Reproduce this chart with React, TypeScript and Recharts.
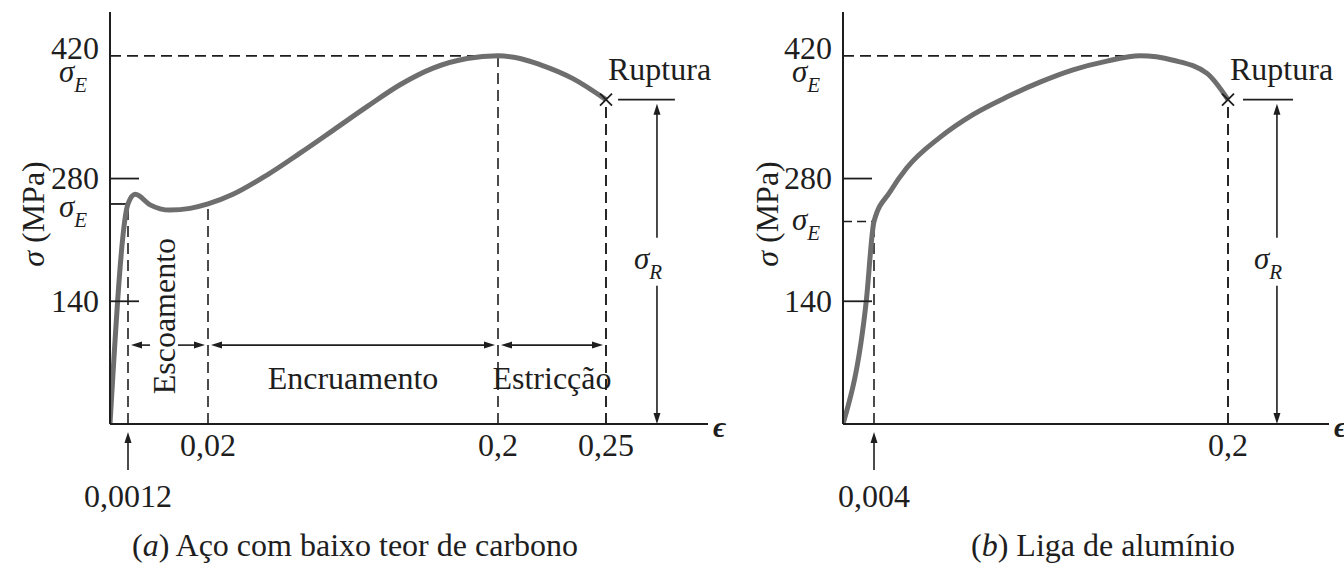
import React from "react";
import { ComposedChart, Line, XAxis, YAxis, ReferenceLine, ReferenceDot } from "recharts";

/* Two schematic stress–strain diagrams side by side.
   The strain axis is drawn "broken" (not to scale), like the textbook figure:
   each tick strain is pinned to a position along the axis and the strain in
   between is stretched piecewise-linearly. Stress is linear. */

const FONT = '"Liberation Serif", "Times New Roman", serif';
const INK = "#1e1e1e";
const CURVE = "#6e6e6e";
const DASH = "11 6";
const FS = 32;

const H = 564;
const TOP = 12;
const BOTTOM = 424;
const STRESS_MAX = 470;

// stress axis (MPa)
const STRESS_TICKS = [140, 280, 420];

// (a) low-carbon steel — strain, stress (MPa)
const STEEL_STRAIN = [0, 0.0012, 0.0029, 0.0064, 0.0111, 0.0158, 0.02, 0.0355, 0.0566, 0.0771, 0.0976, 0.1187, 0.1392, 0.1597, 0.1808, 0.2, 0.2102, 0.2194, 0.2347, 0.25];
const STEEL_STRESS = [0, 251, 262, 250, 244, 246, 251, 262, 284, 309, 335, 362, 387, 406, 417, 420, 417, 410, 394, 370];
const STEEL_TICKS = [0.0012, 0.02, 0.2, 0.25];
const STEEL_TICK_LABELS = ["0,0012", "0,02", "0,2", "0,25"];
const STEEL_ZONES = ["Escoamento", "Encruamento", "Estricção"];
const STEEL_ZONE_STRESS = 90;

// (b) aluminium alloy — strain, stress (MPa)
const ALU_STRAIN = [0, 0.003, 0.004, 0.0129, 0.0221, 0.0405, 0.0588, 0.0775, 0.0959, 0.1142, 0.133, 0.1513, 0.1696, 0.1884, 0.2];
const ALU_STRESS = [0, 140, 231, 265, 292, 327, 353, 373, 390, 404, 414, 420, 415, 400, 370];
const ALU_TICKS = [0.004, 0.2];
const ALU_TICK_LABELS = ["0,004", "0,2"];

type Cfg = {
  left: number;
  width: number;
  axisX: number;
  plotW: number;
  strain: number[];
  stress: number[];
  ticks: number[];
  tickLabels: string[];
  breakU: number[]; // axis position of 0 and of each tick
  arrowTick: number;
  yieldSolid: boolean;
  yieldLabelDy: number;
  ruptureBar: [number, number];
  sigmaR: number;
  titleX: number;
  zones?: string[];
};

const makeWarp = (s: number[], u: number[]) => (v: number) => {
  let i = 0;
  while (i < s.length - 2 && v > s[i + 1]) i++;
  return u[i] + ((v - s[i]) * (u[i + 1] - u[i])) / (s[i + 1] - s[i]);
};

// arrowhead, tip at (x,y), pointing along (dx,dy)
const head = (x: number, y: number, dx: number, dy: number, len = 11, w = 3.5) => {
  const bx = x - dx * len;
  const by = y - dy * len;
  return `M${x},${y} L${bx - dy * w},${by + dx * w} L${bx + dy * w},${by - dx * w} Z`;
};

const txt = { fontFamily: FONT, fontSize: FS, fill: INK } as const;

const Sigma = ({ x, y, sub }: { x: number; y: number; sub: string }) => (
  <text x={x} y={y} fontFamily={FONT} fill={INK} fontStyle="italic" fontSize={31}>
    σ
    <tspan fontSize={21} dy={10}>
      {sub}
    </tspan>
  </text>
);

const AxisTitle = ({ cx, cy }: { cx: number; cy: number }) => (
  <text
    x={cx}
    y={cy}
    transform={`rotate(-90 ${cx} ${cy})`}
    textAnchor="middle"
    dominantBaseline="central"
    {...txt}
  >
    <tspan fontStyle="italic">σ</tspan> (MPa)
  </text>
);

const LABEL_DY: Record<number, number> = { 140: 11, 280: 10, 420: 3 };

function Panel({ cfg }: { cfg: Cfg }) {
  const warp = makeWarp([0, ...cfg.ticks], cfg.breakU);
  const data = cfg.strain.map((s, i) => ({ u: warp(s), stress: cfg.stress[i] }));
  const ticksU = cfg.ticks.map(warp);
  const at = (s: number) => cfg.stress[cfg.strain.indexOf(s)];
  const ax = cfg.axisX;

  const yieldStrain = cfg.ticks[0];
  const yieldStress = at(yieldStrain);
  const utsStress = Math.max(...cfg.stress);
  const utsStrain = cfg.strain[cfg.stress.indexOf(utsStress)];
  const rupStrain = cfg.strain[cfg.strain.length - 1];
  const rupStress = cfg.stress[cfg.stress.length - 1];

  const xTick = (p: any) => {
    const x = Number(p.x);
    const i = ticksU.findIndex((u) => Math.abs(u - p.payload.value) < 1e-6);
    if (i < 0) return <g />;
    if (i === cfg.arrowTick) {
      return (
        <g>
          <line x1={x} y1={BOTTOM + 46} x2={x} y2={BOTTOM + 16} stroke={INK} strokeWidth={1.6} />
          <path d={head(x, BOTTOM + 8, 0, -1)} fill={INK} />
          <text x={x} y={BOTTOM + 83} textAnchor="middle" {...txt}>
            {cfg.tickLabels[i]}
          </text>
        </g>
      );
    }
    return (
      <text x={x} y={BOTTOM + 32} textAnchor="middle" {...txt}>
        {cfg.tickLabels[i]}
      </text>
    );
  };

  const yTick = (p: any) => {
    const y = Number(p.y);
    const v = p.payload.value as number;
    return (
      <g>
        {v !== 420 && <line x1={ax} y1={y} x2={ax + 29} y2={y} stroke={INK} strokeWidth={1.8} />}
        <text x={ax - 11} y={y + (LABEL_DY[v] ?? 10)} textAnchor="end" {...txt}>
          {v}
        </text>
      </g>
    );
  };

  const dashed = (p: any) => (
    <line x1={p.x1} y1={p.y1} x2={p.x2} y2={p.y2} stroke={INK} strokeWidth={1.6} strokeDasharray={DASH} />
  );

  const utsLine = (p: any) => (
    <g>
      {dashed(p)}
      <Sigma x={Number(p.x1) - 51} y={Number(p.y1) + 26} sub="E" />
    </g>
  );

  const yieldLine = (p: any) => (
    <g>
      {cfg.yieldSolid ? (
        <line x1={p.x1} y1={p.y1} x2={p.x2} y2={p.y2} stroke={INK} strokeWidth={1.8} />
      ) : (
        <line x1={p.x1} y1={p.y1} x2={p.x2} y2={p.y2} stroke={INK} strokeWidth={1.6} strokeDasharray="9 5" />
      )}
      <Sigma x={Number(p.x1) - 51} y={Number(p.y1) + cfg.yieldLabelDy} sub="E" />
    </g>
  );

  const solid = (p: any) => <line x1={p.x1} y1={p.y1} x2={p.x2} y2={p.y2} stroke={INK} strokeWidth={1.8} />;

  const sigmaRArrow = (p: any) => {
    const x = Number(p.x1);
    const y1 = Math.min(Number(p.y1), Number(p.y2)) + 4;
    const y2 = Math.max(Number(p.y1), Number(p.y2));
    const mid = (y1 + y2) / 2;
    return (
      <g>
        <line x1={x} y1={y1 + 8} x2={x} y2={mid - 26} stroke={INK} strokeWidth={1.6} />
        <line x1={x} y1={mid + 22} x2={x} y2={y2 - 8} stroke={INK} strokeWidth={1.6} />
        <path d={head(x, y1, 0, -1)} fill={INK} />
        <path d={head(x, y2, 0, 1)} fill={INK} />
        <Sigma x={x - 23} y={mid + 5} sub="R" />
      </g>
    );
  };

  const zoneArrow = (name: string, idx: number) => (p: any) => {
    const xa = Number(p.x1) + 3;
    const xb = Number(p.x2) - 3;
    const y = Number(p.y1);
    const mx = (xa + xb) / 2;
    const vertical = idx === 0;
    return (
      <g>
        {vertical ? (
          <>
            <line x1={xa + 6} y1={y} x2={mx - 18} y2={y} stroke={INK} strokeWidth={1.6} />
            <line x1={mx + 10} y1={y} x2={xb - 6} y2={y} stroke={INK} strokeWidth={1.6} />
          </>
        ) : (
          <line x1={xa + 6} y1={y} x2={xb - 6} y2={y} stroke={INK} strokeWidth={1.6} />
        )}
        <path d={head(xa, y, -1, 0)} fill={INK} />
        <path d={head(xb, y, 1, 0)} fill={INK} />
        {vertical ? (
          <text
            x={mx - 4}
            y={y - 29}
            transform={`rotate(-90 ${mx - 4} ${y - 29})`}
            textAnchor="middle"
            dominantBaseline="central"
            {...txt}
          >
            {name}
          </text>
        ) : (
          <text x={mx} y={y + 44} textAnchor="middle" {...txt}>
            {name}
          </text>
        )}
      </g>
    );
  };

  const rupture = (p: any) => {
    const cx = Number(p.cx);
    const cy = Number(p.cy);
    return (
      <g>
        <path d={`M${cx - 6},${cy - 6} L${cx + 6},${cy + 6} M${cx - 6},${cy + 6} L${cx + 6},${cy - 6}`} stroke={INK} strokeWidth={1.8} />
        <text x={cx + 2} y={cy - 20} {...txt}>
          Ruptura
        </text>
      </g>
    );
  };

  const epsilon = (p: any) => (
    <text x={Number(p.cx) + 5} y={Number(p.cy) + 13} fontFamily={FONT} fontSize={30} fontStyle="italic" fontWeight="bold" fill={INK}>
      ϵ
    </text>
  );

  return (
    <ComposedChart
      width={cfg.width}
      height={H}
      data={data}
      margin={{ top: TOP, right: cfg.width - ax - cfg.plotW, bottom: H - BOTTOM - 40, left: 0 }}
    >
      <XAxis
        type="number"
        dataKey="u"
        domain={[0, cfg.plotW]}
        ticks={ticksU}
        interval={0}
        tick={xTick}
        tickLine={false}
        axisLine={{ stroke: INK, strokeWidth: 2 }}
        height={40}
        allowDataOverflow
      />
      <YAxis
        type="number"
        domain={[0, STRESS_MAX]}
        ticks={STRESS_TICKS}
        interval={0}
        width={ax}
        tick={yTick}
        tickLine={false}
        axisLine={{ stroke: INK, strokeWidth: 2 }}
        allowDataOverflow
        label={<AxisTitle cx={cfg.titleX} cy={214} />}
      />

      {/* dashed drops from the curve to the strain ticks */}
      {cfg.ticks.map((s) => (
        <ReferenceLine key={s} segment={[{ x: warp(s), y: 0 }, { x: warp(s), y: at(s) }]} shape={dashed} />
      ))}
      <ReferenceLine segment={[{ x: warp(rupStrain), y: 0 }, { x: warp(rupStrain), y: rupStress }]} shape={dashed} />
      <ReferenceLine segment={[{ x: 0, y: utsStress }, { x: warp(utsStrain), y: utsStress }]} shape={utsLine} />
      <ReferenceLine segment={[{ x: 0, y: yieldStress }, { x: warp(yieldStrain), y: yieldStress }]} shape={yieldLine} />

      {/* rupture bar and σR dimension */}
      <ReferenceLine segment={[{ x: warp(cfg.ruptureBar[0]), y: rupStress }, { x: warp(cfg.ruptureBar[1]), y: rupStress }]} shape={solid} />
      <ReferenceLine segment={[{ x: warp(cfg.sigmaR), y: rupStress }, { x: warp(cfg.sigmaR), y: 0 }]} shape={sigmaRArrow} />

      {cfg.zones &&
        cfg.zones.map((name, i) => (
          <ReferenceLine
            key={name}
            segment={[{ x: ticksU[i], y: STEEL_ZONE_STRESS }, { x: ticksU[i + 1], y: STEEL_ZONE_STRESS }]}
            shape={zoneArrow(name, i)}
          />
        ))}

      <Line
        dataKey="stress"
        type="monotone"
        stroke={CURVE}
        strokeWidth={5}
        dot={false}
        activeDot={false}
        isAnimationActive={false}
      />

      <ReferenceDot x={warp(rupStrain)} y={rupStress} r={6} shape={rupture} />
      <ReferenceDot x={cfg.plotW} y={0} r={1} shape={epsilon} ifOverflow="visible" />
    </ComposedChart>
  );
}

const STEEL: Cfg = {
  left: 0,
  width: 730,
  axisX: 110,
  plotW: 598,
  strain: STEEL_STRAIN,
  stress: STEEL_STRESS,
  ticks: STEEL_TICKS,
  tickLabels: STEEL_TICK_LABELS,
  breakU: [0, 18, 98, 388, 496],
  arrowTick: 0,
  yieldSolid: true,
  yieldLabelDy: 13,
  ruptureBar: [0.2556, 0.2819],
  sigmaR: 0.2736,
  titleX: 33,
  zones: STEEL_ZONES,
};

const ALU: Cfg = {
  left: 730,
  width: 614,
  axisX: 113,
  plotW: 486,
  strain: ALU_STRAIN,
  stress: ALU_STRESS,
  ticks: ALU_TICKS,
  tickLabels: ALU_TICK_LABELS,
  breakU: [0, 31, 385],
  arrowTick: 0,
  yieldSolid: false,
  yieldLabelDy: 8,
  ruptureBar: [0.2083, 0.236],
  sigmaR: 0.2271,
  titleX: 37,
};

export default function App() {
  return (
    <div style={{ position: "absolute", left: 0, top: 0, width: 1344, height: H, background: "#fff", overflow: "hidden" }}>
      <div style={{ position: "absolute", left: STEEL.left, top: 0 }}>
        <Panel cfg={STEEL} />
      </div>
      <div style={{ position: "absolute", left: ALU.left, top: 0 }}>
        <Panel cfg={ALU} />
      </div>
      <svg width={1344} height={H} style={{ position: "absolute", left: 0, top: 0, pointerEvents: "none" }}>
        <text x={355} y={556} textAnchor="middle" {...txt}>
          (<tspan fontStyle="italic">a</tspan>) Aço com baixo teor de carbono
        </text>
        <text x={1103} y={556} textAnchor="middle" {...txt}>
          (<tspan fontStyle="italic">b</tspan>) Liga de alumínio
        </text>
      </svg>
    </div>
  );
}
